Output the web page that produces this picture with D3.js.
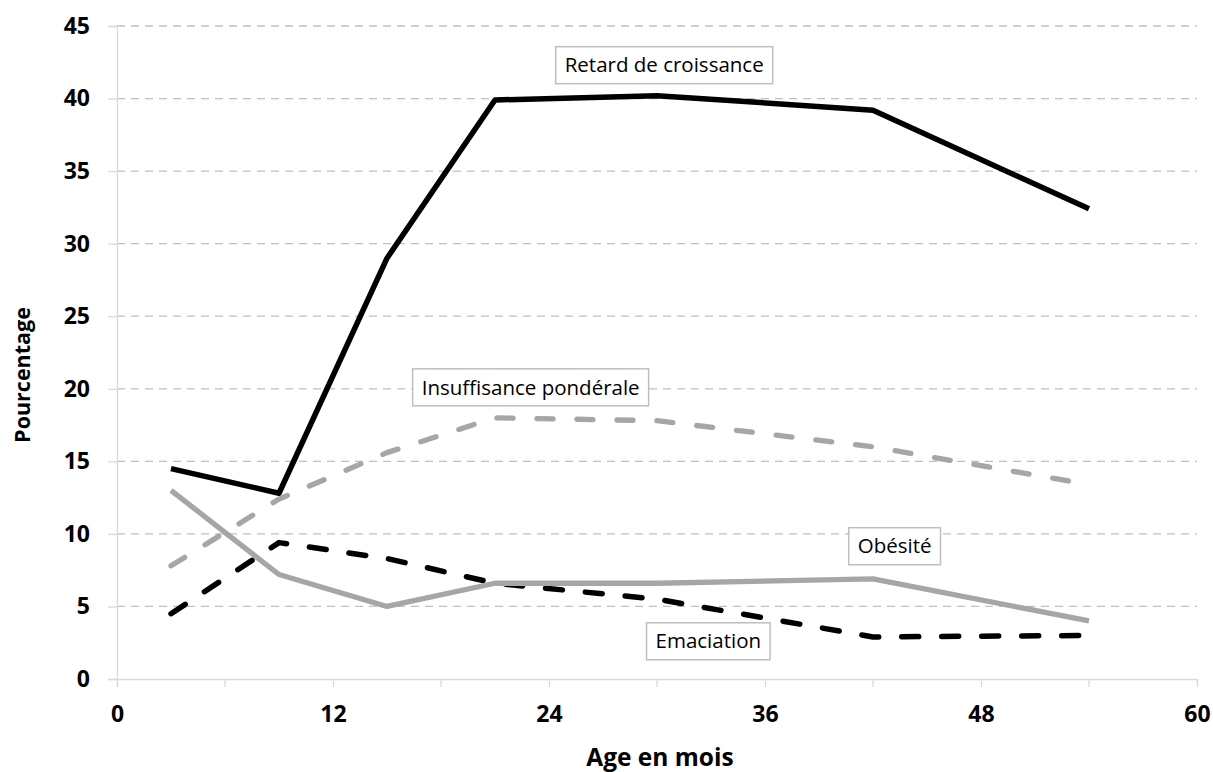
<!DOCTYPE html>
<html>
<head>
<meta charset="utf-8">
<script src="https://cdn.jsdelivr.net/npm/d3@7"></script>
<style>
  body { margin: 0; background: #fff; }
  text { font-family: "Open Sans", sans-serif; }
</style>
</head>
<body>
<svg id="chart" width="1213" height="772"></svg>
<script>
// Ages (months) and the four series, in percent
const ages = [3, 9, 15, 21, 30, 42, 54];
const retard = [14.5, 12.8, 29.0, 39.9, 40.2, 39.2, 32.4];
const insuffisance = [7.8, 12.4, 15.6, 18.0, 17.8, 16.0, 13.4];
const emaciation = [4.5, 9.4, 8.3, 6.6, 5.5, 2.9, 3.0];
const obesite = [13.0, 7.2, 5.0, 6.6, 6.6, 6.9, 4.0];

const xTicks = [0, 12, 24, 36, 48, 60];
const xMinor = [6, 18, 30, 42, 54];
const yTicks = [0, 5, 10, 15, 20, 25, 30, 35, 40, 45];

// series styles + where each label box sits (in data units)
const series = [
  { name: "Retard de croissance", values: retard, color: "#000", dash: null, lx: 30.4, ly: 42.3 },
  { name: "Insuffisance pondérale", values: insuffisance, color: "#a6a6a6", dash: "16,24", lx: 22.98, ly: 20.1 },
  { name: "Emaciation", values: emaciation, color: "#000", dash: "17,23", lx: 32.85, ly: 2.6 },
  { name: "Obésité", values: obesite, color: "#a6a6a6", dash: null, lx: 43.2, ly: 9.15 }
];

const svg = d3.select("#chart");
const x = d3.scaleLinear().domain([0, 60]).range([117, 1197]);
const y = d3.scaleLinear().domain([0, 45]).range([679, 26]);

// gridlines
svg.append("g")
  .selectAll("line")
  .data(yTicks.filter(d => d > 0))
  .join("line")
  .attr("x1", x(0)).attr("x2", x(60))
  .attr("y1", d => y(d)).attr("y2", d => y(d))
  .attr("stroke", "#c0c0c0")
  .attr("stroke-width", 1.3)
  .attr("stroke-dasharray", "8,6");

// y axis
const yAxis = svg.append("g")
  .attr("transform", `translate(${x(0)},0)`)
  .call(d3.axisLeft(y).tickValues(yTicks).tickSize(9).tickPadding(18));
yAxis.select(".domain").attr("stroke", "#d9d9d9").attr("stroke-width", 1.3);
yAxis.selectAll(".tick line").attr("stroke", "#d9d9d9").attr("stroke-width", 1.3);
yAxis.selectAll("text")
  .attr("font-family", "Open Sans").attr("font-size", 23).attr("font-weight", "bold").attr("fill", "#000");

// x axis
const xAxis = svg.append("g")
  .attr("transform", `translate(0,${y(0)})`)
  .call(d3.axisBottom(x).tickValues(xTicks).tickSize(8).tickPadding(19));
xAxis.select(".domain").attr("stroke", "#d9d9d9").attr("stroke-width", 1.3);
xAxis.selectAll(".tick line").attr("stroke", "#d9d9d9").attr("stroke-width", 1.3);
xAxis.selectAll("text")
  .attr("font-family", "Open Sans").attr("font-size", 23).attr("font-weight", "bold").attr("fill", "#000");
xAxis.append("g")
  .selectAll("line")
  .data(xMinor)
  .join("line")
  .attr("x1", d => x(d)).attr("x2", d => x(d))
  .attr("y1", 0).attr("y2", 8)
  .attr("stroke", "#d9d9d9").attr("stroke-width", 1.3);

// axis titles
svg.append("text")
  .attr("x", 660).attr("y", 766)
  .attr("text-anchor", "middle")
  .attr("font-size", 24.5).attr("font-weight", "bold")
  .text("Age en mois");
svg.append("text")
  .attr("transform", "translate(30,375) rotate(-90)")
  .attr("text-anchor", "middle")
  .attr("font-size", 21.5).attr("font-weight", "bold")
  .text("Pourcentage");

// lines
const line = d3.line()
  .x((d, i) => x(ages[i]))
  .y(d => y(d));

svg.append("g")
  .selectAll("path")
  .data(series)
  .join("path")
  .attr("d", d => line(d.values))
  .attr("fill", "none")
  .attr("stroke", d => d.color)
  .attr("stroke-width", d => d.color === "#000" ? 5.5 : 5.3)
  .attr("stroke-linejoin", "round")
  .attr("stroke-linecap", d => d.dash ? "round" : "butt")
  .attr("stroke-dasharray", d => d.dash);

// label boxes
series.forEach(s => {
  const g = svg.append("g");
  const t = g.append("text")
    .attr("x", x(s.lx)).attr("y", y(s.ly))
    .attr("text-anchor", "middle")
    .attr("dy", "0.35em")
    .attr("font-size", 20.5)
    .text(s.name);
  const bb = t.node().getBBox();
  g.insert("rect", "text")
    .attr("x", bb.x - 9).attr("y", y(s.ly) - 18.5)
    .attr("width", bb.width + 18).attr("height", 37)
    .attr("fill", "#fff")
    .attr("stroke", "#bfbfbf")
    .attr("stroke-width", 1.5);
});
</script>
</body>
</html>
